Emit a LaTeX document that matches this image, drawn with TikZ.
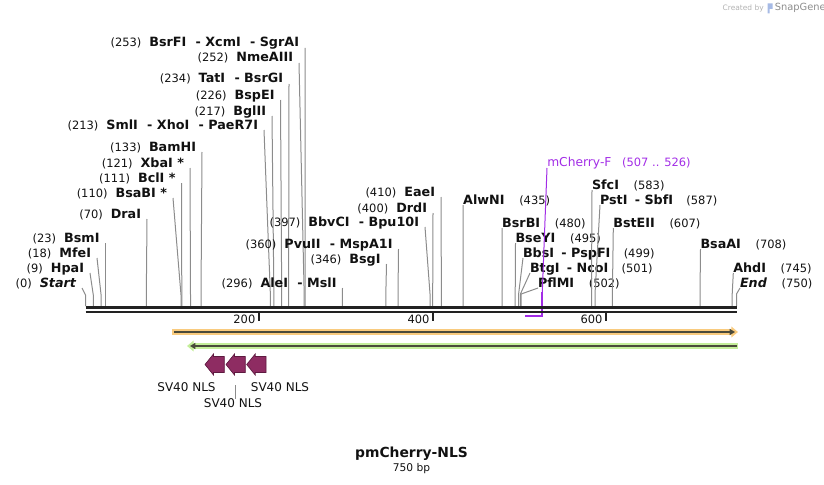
\documentclass[tikz,border=0pt]{standalone}
\usepackage{fontspec}
\setmainfont{DejaVu Sans}
\usetikzlibrary{arrows.meta}
\definecolor{lead}{HTML}{8C8C8C}
\definecolor{bb}{HTML}{222222}
\definecolor{txt}{HTML}{111111}
\definecolor{primer}{HTML}{A22CE6}
\definecolor{nls}{HTML}{8E2C62}
\definecolor{nlsd}{HTML}{5E1A40}
\definecolor{orangef}{HTML}{F9CB7E}
\definecolor{greenf}{HTML}{C4EE9A}
\definecolor{darkl}{HTML}{4A4A3A}
\newcommand\nm[1]{{\fontsize{9.55}{11}\selectfont\bfseries #1}}
\newcommand\bpn[1]{{\fontsize{8.6}{10}\selectfont #1}}
\newcommand\nmi[1]{{\fontsize{9.55}{11}\selectfont\bfseries\itshape #1}}
\newcommand\hy{\hspace{7pt}- }
\newcommand\hyr{\hspace{5.5pt}- }
% left-type label: id, top x, top y, backbone x, text
\newcommand\enzL[5]{%
  \node[lbl, anchor=base east] (#1) at (#2-6,#3-1) {#5};
  \coordinate (#1t) at (#2,#3);
  \coordinate (#1b) at (#4,306);
  \draw[leader] (#1t) -- (#4,295) -- (#1b);
}
% right-type label
\newcommand\enzR[5]{%
  \node[lbl, anchor=base west] (#1) at (#2,#3-1) {#5};
  \coordinate (#1t) at (#2,#3);
  \coordinate (#1b) at (#4,306);
  \draw[leader] (#1t) -- (#4,294) -- (#1b);
}
\newcommand\nlsarrow[3]{%
  \filldraw[fill=nls, draw=nlsd, line width=0.5pt] (#2,364.5) -- (#2+8.5,354) -- (#2+8.5,356.5) -- (#3,356.5) -- (#3,372.5) -- (#2+8.5,372.5) -- (#2+8.5,375) -- cycle;
  \coordinate (#1) at ({(#2+#3)/2},375);
}
\begin{document}
\begin{tikzpicture}[x=0.75pt,y=-0.75pt,
  lbl/.style={inner sep=0pt, outer sep=0pt, text=txt},
  leader/.style={draw=lead, line width=0.75pt},
  tick/.style={draw=bb, line width=1.5pt},
  ticklbl/.style={inner sep=0pt, text=txt, font=\fontsize{8.6}{10}\selectfont}]
\useasboundingbox (0,0) rectangle (824,485);

% watermark
\node[anchor=base east, inner sep=0pt, text=black!30, font=\fontsize{5.6}{6}\selectfont] (wm1) at (764,10.5) {Created by};
\fill[cyan!45!blue!35] (767.5,3.5) rectangle (772.5,9) (767.5,9) rectangle (769.5,13.5);
\node[anchor=base west, inner sep=0pt, text=black!45, font=\fontsize{7.4}{8}\selectfont] (wm2) at (774.5,11) {SnapGene};

% left group
\enzL{e1}{305}{48}{305.1}{\bpn{(253)}\hspace{6pt}\nm{BsrFI\hy XcmI\hy SgrAI}}
\enzL{e2}{299}{63}{304.2}{\bpn{(252)}\hspace{6pt}\nm{NmeAIII}}
\enzL{e3}{289}{84}{288.6}{\bpn{(234)}\hspace{6pt}\nm{TatI\hy BsrGI}}
\enzL{e4}{280.5}{100}{281.7}{\bpn{(226)}\hspace{6pt}\nm{BspEI}}
\enzL{e5}{272}{116}{273.9}{\bpn{(217)}\hspace{6pt}\nm{BglII}}
\enzL{e6}{264}{130}{270.4}{\bpn{(213)}\hspace{6pt}\nm{SmlI\hy XhoI\hy PaeR7I}}
\enzL{e7}{202}{152}{201}{\bpn{(133)}\hspace{6pt}\nm{BamHI}}
\enzL{e8}{190}{168}{190.5}{\bpn{(121)}\hspace{6pt}\nm{XbaI *}}
\enzL{e9}{181.5}{183}{181.8}{\bpn{(111)}\hspace{6pt}\nm{BclI *}}
\enzL{e10}{173}{198}{181}{\bpn{(110)}\hspace{6pt}\nm{BsaBI *}}
\enzL{e11}{147}{219}{146.3}{\bpn{(70)}\hspace{6pt}\nm{DraI}}
\enzL{e12}{105.5}{243}{105.5}{\bpn{(23)}\hspace{6pt}\nm{BsmI}}
\enzL{e13}{97}{258}{101.1}{\bpn{(18)}\hspace{6pt}\nm{MfeI}}
\enzL{e14}{90}{273}{93.3}{\bpn{(9)}\hspace{6pt}\nm{HpaI}}
\enzL{e15}{82}{288}{85.5}{\bpn{(0)}\hspace{6pt}\nmi{Start}}

% middle group
\enzL{e16}{441}{197}{441.4}{\bpn{(410)}\hspace{6pt}\nm{EaeI}}
\enzL{e17}{433}{213}{432.7}{\bpn{(400)}\hspace{6pt}\nm{DrdI}}
\enzL{e18}{425}{227}{430.1}{\bpn{(397)}\hspace{6pt}\nm{BbvCI\hy Bpu10I}}
\enzL{e19}{398.5}{249}{398}{\bpn{(360)}\hspace{6pt}\nm{PvuII\hy MspA1I}}
\enzL{e20}{386.5}{264}{385.8}{\bpn{(346)}\hspace{6pt}\nm{BsgI}}
\enzL{e21}{342.5}{288}{342.4}{\bpn{(296)}\hspace{6pt}\nm{AleI\hy MslI}}

% right group
\enzR{e22}{463.2}{205}{463.1}{\nm{AlwNI}\hspace{11pt}\bpn{(435)}}
\enzR{e23}{502.2}{228}{502.1}{\nm{BsrBI}\hspace{11pt}\bpn{(480)}}
\enzR{e24}{515.5}{243}{515.2}{\nm{BseYI}\hspace{11pt}\bpn{(495)}}
\enzR{e25}{523}{258}{518.6}{\nm{BbsI\hyr PspFI}\hspace{10pt}\bpn{(499)}}
\enzR{e26}{530}{273}{520.4}{\nm{BtgI\hyr NcoI}\hspace{10pt}\bpn{(501)}}
\enzR{e27}{538}{288}{521.2}{\nm{PflMI}\hspace{11pt}\bpn{(502)}}
\enzR{e28}{592}{190}{591.5}{\nm{SfcI}\hspace{11pt}\bpn{(583)}}
\enzR{e29}{600}{205}{595}{\nm{PstI\hyr SbfI}\hspace{10pt}\bpn{(587)}}
\enzR{e30}{613.3}{228}{612.4}{\nm{BstEII}\hspace{11pt}\bpn{(607)}}
\enzR{e31}{700.5}{249}{700}{\nm{BsaAI}\hspace{11pt}\bpn{(708)}}
\enzR{e32}{733.3}{273}{732.2}{\nm{AhdI}\hspace{11pt}\bpn{(745)}}
\enzR{e33}{740}{288}{736.5}{\nmi{End}\hspace{11pt}\bpn{(750)}}

% primer
\node[anchor=base west, inner sep=0pt, text=primer] (pr) at (547,166) {{\fontsize{9.2}{10}\selectfont mCherry-F}\hspace{8pt}\bpn{(507 .. 526)}};
\coordinate (prt) at (547,168);
\coordinate (prc) at (542.3,316);
\coordinate (pre) at (525,316);
\draw[primer, line width=0.75pt] (prt) -- (542.3,292);
\draw[primer, line width=1.6pt] (542.3,292) -- (prc) -- (pre);

% backbone
\coordinate (bbs) at (85.5,0);
\coordinate (bbe) at (736.5,0);
\draw[bb, line width=2.1pt] (bbs |- 0,307.4) -- (bbe |- 0,307.4);
\draw[bb, line width=2.1pt] (bbs |- 0,312) -- (bbe |- 0,312);

% ticks
\foreach \p/\xx in {200/259.1,400/433.3,600/606.3}{
  \draw[tick] (\xx,313) -- (\xx,321);
  \node[ticklbl, anchor=east] (t\p) at (\xx-3.5,319.5) {\p};
}

% orange feature (forward)
\coordinate (of1) at (172,332);
\coordinate (of2) at (738,332);
\draw[orangef, line width=4.4pt, -{Triangle[length=5pt,width=8pt]}] (of1) -- (of2);
\draw[darkl, line width=1.5pt, -{Triangle[length=4pt,width=4.5pt]}] (174,332) -- (735,332);

% green feature (reverse)
\coordinate (gf1) at (738,346);
\coordinate (gf2) at (187,346);
\draw[greenf, line width=4.4pt, -{Triangle[length=5pt,width=8pt]}] (gf1) -- (gf2);
\draw[darkl, line width=1.5pt, -{Triangle[length=4pt,width=4.5pt]}] (736.5,346) -- (190,346);

% NLS features
\nlsarrow{n1}{205}{224.3}
\nlsarrow{n2}{226}{245.3}
\nlsarrow{n3}{246.7}{266}
\node[inner sep=0pt, text=txt, font=\fontsize{9}{10}\selectfont] (l1) at (186.5,387.5) {SV40 NLS};
\node[inner sep=0pt, text=txt, font=\fontsize{9}{10}\selectfont] (l3) at (280,387.5) {SV40 NLS};
\node[inner sep=0pt, text=txt, font=\fontsize{9}{10}\selectfont] (l2) at (233,403.5) {SV40 NLS};
\coordinate (l2t) at (235.7,385);
\draw[leader] (l2t) -- (l2.north -| l2t);

% title
\node[inner sep=0pt, text=txt, font=\fontsize{10.4}{12}\selectfont\bfseries] (title) at (411.5,454) {pmCherry-NLS};
\node[inner sep=0pt, text=txt, font=\fontsize{8}{10}\selectfont] (size) at (411.5,469) {750 bp};
\end{tikzpicture}
\end{document}
